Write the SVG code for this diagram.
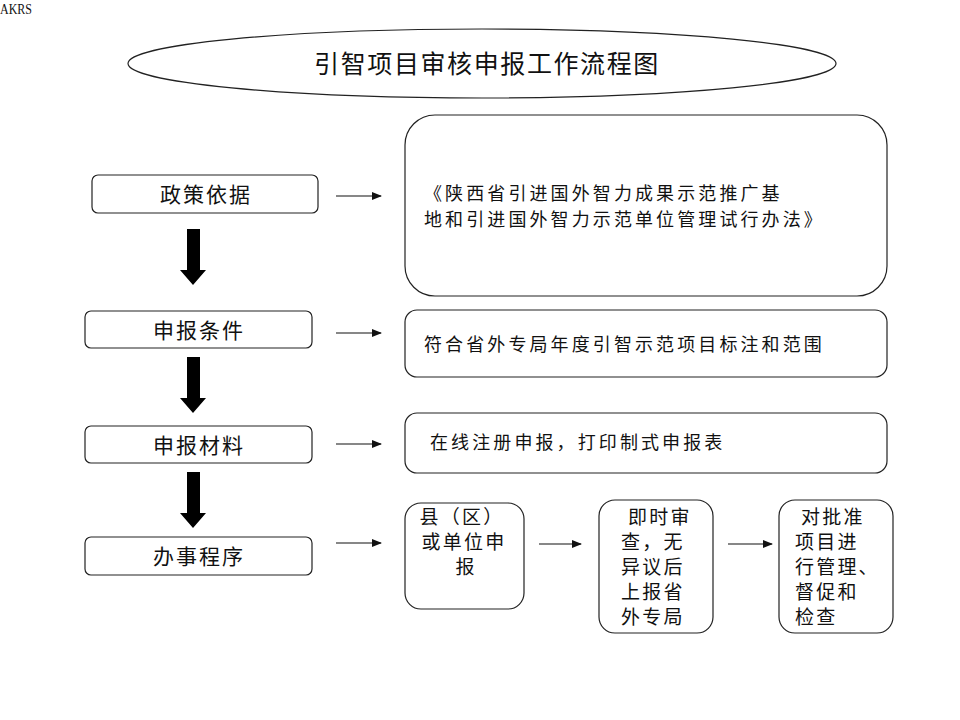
<svg xmlns="http://www.w3.org/2000/svg" width="960" height="720" viewBox="0 0 960 720">
<style>
.box{fill:#fff;stroke:#222;stroke-width:1.2}
.t{font-family:"Noto Sans CJK SC","Noto Sans CJK TC",sans-serif;fill:#111}
.lab{font-size:21px;letter-spacing:2px;text-anchor:middle}
.rt{font-size:18px;letter-spacing:3.1px}
.bt{font-size:19px;letter-spacing:2.2px}
.ln{stroke:#111;stroke-width:1.2;fill:none}
.thick{fill:#000}
.mark{font-family:"Liberation Serif",serif;font-size:15px;fill:#111}
</style>
<defs>
<marker id="ah" markerUnits="userSpaceOnUse" markerWidth="10" markerHeight="8" refX="9" refY="4" orient="auto">
<path d="M0,0 L10,4 L0,8 Z" fill="#111"/>
</marker>
</defs>
<rect width="960" height="720" fill="#fff"/>
<text x="0" y="14" class="mark" textLength="32" lengthAdjust="spacingAndGlyphs">AKRS</text>

<g id="title">
<ellipse cx="482" cy="63.5" rx="354" ry="34.5" class="box"/>
<text x="487" y="73" class="t" font-size="25" letter-spacing="1.6" text-anchor="middle">引智项目审核申报工作流程图</text>
</g>

<g id="n-policy">
<rect x="92" y="175" width="226" height="38" rx="6" class="box"/>
<text x="206" y="202" class="t lab">政策依据</text>
</g>
<g id="n-condition">
<rect x="85" y="311" width="227" height="37" rx="6" class="box"/>
<text x="199" y="338" class="t lab">申报条件</text>
</g>
<g id="n-material">
<rect x="85" y="426" width="227" height="37" rx="6" class="box"/>
<text x="199" y="453" class="t lab">申报材料</text>
</g>
<g id="n-procedure">
<rect x="85" y="537" width="227" height="38" rx="6" class="box"/>
<text x="199" y="564" class="t lab">办事程序</text>
</g>

<g id="n-policy-detail">
<rect x="405" y="115" width="482" height="181" rx="30" class="box"/>
<text class="t rt"><tspan x="424" y="200">《陕西省引进国外智力成果示范推广基</tspan><tspan x="424" y="226">地和引进国外智力示范单位管理试行办法》</tspan></text>
</g>
<g id="n-condition-detail">
<rect x="405" y="310" width="482" height="67" rx="12" class="box"/>
<text x="424" y="351" class="t rt">符合省外专局年度引智示范项目标注和范围</text>
</g>
<g id="n-material-detail">
<rect x="405" y="413" width="482" height="60" rx="12" class="box"/>
<text x="430" y="449" class="t rt">在线注册申报，打印制式申报表</text>
</g>

<g id="n-step1">
<rect x="405" y="503" width="119" height="106" rx="16" class="box"/>
<text class="t bt" text-anchor="middle"><tspan x="462" y="524">县（区）</tspan><tspan x="464" y="549">或单位申</tspan><tspan x="466" y="574">报</tspan></text>
</g>
<g id="n-step2">
<rect x="599" y="500" width="114" height="133" rx="16" class="box"/>
<text class="t bt"><tspan x="628" y="524">即时审</tspan><tspan x="621" y="549">查，无</tspan><tspan x="621" y="574">异议后</tspan><tspan x="621" y="599">上报省</tspan><tspan x="621" y="624">外专局</tspan></text>
</g>
<g id="n-step3">
<rect x="779" y="500" width="114" height="133" rx="16" class="box"/>
<text class="t bt"><tspan x="801" y="524">对批准</tspan><tspan x="795" y="549">项目进</tspan><tspan x="795" y="574">行管理、</tspan><tspan x="795" y="599">督促和</tspan><tspan x="795" y="624">检查</tspan></text>
</g>

<g id="connectors">
<polygon class="thick" points="187,229 200,229 200,270 206,270 193,285 180,270 187,270"/>
<polygon class="thick" points="187,357 200,357 200,398 206,398 193,413 180,398 187,398"/>
<polygon class="thick" points="187,472 200,472 200,513 206,513 193,528 180,513 187,513"/>
<line x1="336" y1="196" x2="381" y2="196" class="ln" marker-end="url(#ah)"/>
<line x1="336" y1="333" x2="381" y2="333" class="ln" marker-end="url(#ah)"/>
<line x1="336" y1="444" x2="381" y2="444" class="ln" marker-end="url(#ah)"/>
<line x1="336" y1="543" x2="381" y2="543" class="ln" marker-end="url(#ah)"/>
<line x1="539" y1="544" x2="581" y2="544" class="ln" marker-end="url(#ah)"/>
<line x1="728" y1="544" x2="772" y2="544" class="ln" marker-end="url(#ah)"/>
</g>
</svg>
